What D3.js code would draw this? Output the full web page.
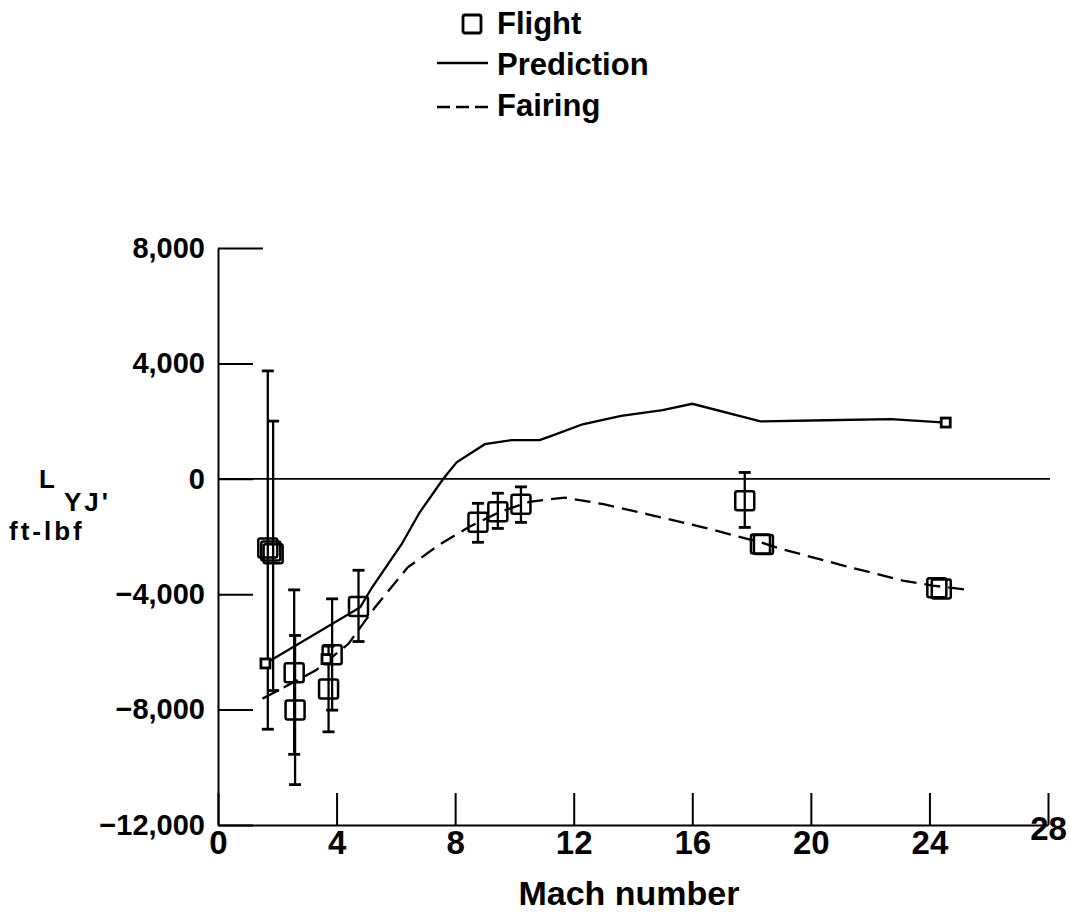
<!DOCTYPE html>
<html>
<head>
<meta charset="utf-8">
<style>
  body { margin: 0; background: #fff; }
  text { font-family: "Liberation Sans", Arial, sans-serif; font-weight: bold; fill: #000; }
</style>
</head>
<body>
<script src="https://d3js.org/d3.v7.min.js"></script>
<svg id="chart" width="1070" height="922"></svg>
<script>
// ---- data ----
var xTicks = [0, 4, 8, 12, 16, 20, 24, 28];
var yTicks = [8000, 4000, 0, -4000, -8000, -12000];

// prediction (solid line)
var predMach = [1.6, 4.8, 5.2, 6.2, 6.8, 7.6, 8.05, 9.0, 9.9, 10.85, 11.25, 12.3, 13.6, 15.0, 16.0, 18.3, 20.5, 22.7, 24.55];
var predVal  = [-6400, -4450, -3760, -2260, -1170, 0, 570, 1200, 1340, 1340, 1490, 1890, 2180, 2380, 2600, 1990, 2030, 2070, 1950];

// fairing (dashed line)
var fairMach = [1.5, 3.3, 4.4, 5.3, 6.4, 7.5, 8.45, 9.5, 10.5, 11.7, 13.0, 14.5, 16.4, 18.3, 19.0, 21.0, 23.1, 24.1, 25.3];
var fairVal  = [-7620, -6640, -5720, -4450, -3070, -2260, -1680, -1150, -800, -650, -880, -1230, -1690, -2200, -2430, -2980, -3530, -3700, -3850];

// flight points, with error bar limits (null = no bar)
var flightMach = [1.68, 1.78, 1.86, 2.57, 2.6, 3.73, 3.85, 4.74, 8.77, 9.44, 10.22, 17.77, 18.3, 18.4, 24.25, 24.4];
var flightVal  = [-2400, -2500, -2600, -6720, -8010, -7290, -6100, -4430, -1510, -1140, -880, -760, -2260, -2280, -3780, -3820];
var flightLo   = [-8680, null, -7340, -9550, -10600, -8770, -8020, -5640, -2200, -1720, -1510, -1685, null, null, null, null];
var flightHi   = [3740, null, 2000, -3850, -5430, -5800, -4160, -3170, -850, -500, -280, 220, null, null, null, null];

// small solid markers
var markMach = [1.6, 3.66, 24.55];
var markVal  = [-6400, -6250, 1950];

// ---- drawing ----
var svg = d3.select("#chart");
svg.append("rect").attr("width", 1070).attr("height", 922).attr("fill", "#fff");

var x = d3.scaleLinear().domain([0, 28]).range([218, 1048]);
var y = d3.scaleLinear().domain([-12000, 8000]).range([825, 248]);

var fmt = function(d) { return d < 0 ? "\u2212" + d3.format(",")(-d) : d3.format(",")(d); };

// y axis
var yAxis = d3.axisLeft(y).tickValues(yTicks).tickFormat(fmt)
  .tickSizeInner(-35).tickSizeOuter(0).tickPadding(13);
var gy = svg.append("g").attr("transform", "translate(218,0)").call(yAxis);
gy.selectAll("text").style("font-size", "29px");
gy.selectAll(".tick").filter(function(d) { return d === 8000; }).select("line").attr("x2", 45);

// x axis
var xAxis = d3.axisBottom(x).tickValues(xTicks).tickFormat(d3.format("d"))
  .tickSizeInner(-32).tickSizeOuter(0).tickPadding(6);
var gx = svg.append("g").attr("transform", "translate(0,825)").call(xAxis);
gx.selectAll("text").style("font-size", "33px");
gx.selectAll(".tick").filter(function(d) { return d === 28; }).select("text").attr("y", -8);

svg.selectAll(".domain, .tick line").attr("stroke", "#000").attr("stroke-width", 2);

// zero line
svg.append("line")
  .attr("x1", x(0)).attr("x2", 1050)
  .attr("y1", y(0)).attr("y2", y(0))
  .attr("stroke", "#000").attr("stroke-width", 1.8);

var predData = predMach.map(function(m, i) { return [m, predVal[i]]; });
var fairData = fairMach.map(function(m, i) { return [m, fairVal[i]]; });

var line = d3.line().x(function(d) { return x(d[0]); }).y(function(d) { return y(d[1]); });

svg.append("path").datum(predData).attr("d", line)
  .attr("fill", "none").attr("stroke", "#000").attr("stroke-width", 2.3);

svg.append("path").datum(fairData).attr("d", line)
  .attr("fill", "none").attr("stroke", "#000").attr("stroke-width", 2.3)
  .attr("stroke-dasharray", "16,8");

// flight data
var flight = flightMach.map(function(m, i) {
  return { m: m, v: flightVal[i], lo: flightLo[i], hi: flightHi[i] };
});

var bars = svg.append("g").selectAll("g").data(flight.filter(function(d) { return d.lo !== null; }))
  .join("g");
bars.append("line")
  .attr("x1", function(d) { return x(d.m); }).attr("x2", function(d) { return x(d.m); })
  .attr("y1", function(d) { return y(d.lo); }).attr("y2", function(d) { return y(d.hi); })
  .attr("stroke", "#000").attr("stroke-width", 2.3);
bars.selectAll(".cap").data(function(d) { return [[d.m, d.lo], [d.m, d.hi]]; })
  .join("line").attr("class", "cap")
  .attr("x1", function(d) { return x(d[0]) - 6; }).attr("x2", function(d) { return x(d[0]) + 6; })
  .attr("y1", function(d) { return y(d[1]); }).attr("y2", function(d) { return y(d[1]); })
  .attr("stroke", "#000").attr("stroke-width", 2.8);

var sq = 19;
svg.append("g").selectAll("rect").data(flight).join("rect")
  .attr("x", function(d) { return x(d.m) - sq / 2; })
  .attr("y", function(d) { return y(d.v) - sq / 2; })
  .attr("width", sq).attr("height", sq).attr("rx", 2)
  .attr("fill", "none").attr("stroke", "#000").attr("stroke-width", 2.5);

svg.append("g").selectAll("rect").data(markMach.map(function(m, i) { return [m, markVal[i]]; }))
  .join("rect")
  .attr("x", function(d) { return x(d[0]) - 4.5; })
  .attr("y", function(d) { return y(d[1]) - 4.5; })
  .attr("width", 9).attr("height", 9)
  .attr("fill", "#fff").attr("stroke", "#000").attr("stroke-width", 2.8);

// axis titles
svg.append("text").attr("x", 629).attr("y", 905).attr("text-anchor", "middle")
  .style("font-size", "34px").text("Mach number");

svg.append("text").attr("x", 39).attr("y", 488).style("font-size", "26px").text("L");
svg.append("text").attr("x", 64).attr("y", 511).style("font-size", "26px")
  .style("letter-spacing", "3px").text("YJ'");
svg.append("text").attr("x", 9).attr("y", 540).style("font-size", "26px")
  .style("letter-spacing", "3px").text("ft-lbf");

// legend
var lg = svg.append("g");
lg.append("rect").attr("x", 463).attr("y", 15).attr("width", 18).attr("height", 18).attr("rx", 2)
  .attr("fill", "none").attr("stroke", "#000").attr("stroke-width", 2.8);
lg.append("line").attr("x1", 437).attr("x2", 488).attr("y1", 63).attr("y2", 63)
  .attr("stroke", "#000").attr("stroke-width", 2.3);
lg.append("line").attr("x1", 437).attr("x2", 488).attr("y1", 107).attr("y2", 107)
  .attr("stroke", "#000").attr("stroke-width", 2.6).attr("stroke-dasharray", "13,6");
var legendNames = ["Flight", "Prediction", "Fairing"];
lg.selectAll(".lt").data(legendNames).join("text").attr("class", "lt")
  .attr("x", 497).attr("y", function(d, i) { return [34, 75, 116][i]; })
  .style("font-size", "31px").text(function(d) { return d; });
</script>
</body>
</html>
